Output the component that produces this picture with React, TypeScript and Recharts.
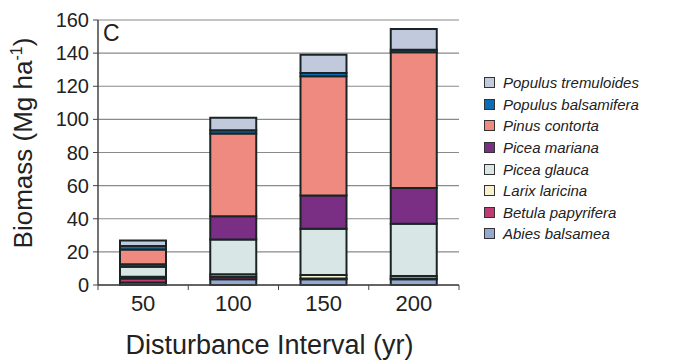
import { BarChart, Bar, XAxis, YAxis, CartesianGrid, Label } from "recharts";

const intervals = ["50", "100", "150", "200"];

// stacked bottom -> top
const abiesBalsamea = [1.5, 3.5, 3.5, 3.5];
const betulaPapyrifera = [2.5, 1.5, 0.5, 0.5];
const larixLaricina = [1, 1.5, 2, 1.5];
const piceaGlauca = [6, 21, 28, 31.5];
const piceaMariana = [1.5, 14, 20, 21.5];
const pinusContorta = [9, 50, 72, 82];
const populusBalsamifera = [2, 2, 2, 1.5];
const populusTremuloides = [3.3, 7.5, 11, 12.5];

const yTicks = [0, 20, 40, 60, 80, 100, 120, 140, 160];

const species = [
  { key: "abies", name: "Abies balsamea", color: "#94A8D2", values: abiesBalsamea },
  { key: "betula", name: "Betula papyrifera", color: "#C23A73", values: betulaPapyrifera },
  { key: "larix", name: "Larix laricina", color: "#F7F2CD", values: larixLaricina },
  { key: "glauca", name: "Picea glauca", color: "#D8E6E5", values: piceaGlauca },
  { key: "mariana", name: "Picea mariana", color: "#7B2F84", values: piceaMariana },
  { key: "contorta", name: "Pinus contorta", color: "#EE8A80", values: pinusContorta },
  { key: "balsamifera", name: "Populus balsamifera", color: "#0A6DB5", values: populusBalsamifera },
  { key: "tremuloides", name: "Populus tremuloides", color: "#C1C9DD", values: populusTremuloides },
];

const data = intervals.map((interval, i) => {
  const row: { [k: string]: string | number } = { interval };
  species.forEach((s) => {
    row[s.key] = s.values[i];
  });
  return row;
});

const FONT = "'Liberation Sans', Arial, sans-serif";
const PLOT_LEFT = 98;
const PLOT_RIGHT = 459;
const band = (PLOT_RIGHT - PLOT_LEFT) / intervals.length;

const XTick = (props: any) => {
  const { x, y, payload, index } = props;
  return (
    <g>
      <line x1={x - band / 2} x2={x - band / 2} y1={y - 8} y2={y - 3} stroke="#444" />
      {index === intervals.length - 1 && (
        <line x1={x + band / 2} x2={x + band / 2} y1={y - 8} y2={y - 3} stroke="#444" />
      )}
      <text x={x} y={y + 18} textAnchor="middle" fontSize={22} fill="#222" fontFamily={FONT}>
        {payload.value}
      </text>
    </g>
  );
};

export default function App() {
  return (
    <div style={{ position: "absolute", left: 0, top: 0, width: 674, height: 362, background: "#fff", fontFamily: FONT }}>
      <BarChart
        width={674}
        height={362}
        data={data}
        margin={{ top: 20, right: 674 - PLOT_RIGHT, bottom: 7, left: 0 }}
        barSize={46}
      >
        <CartesianGrid vertical={false} stroke="#8a8a8a" strokeWidth={1.2} />
        <XAxis
          dataKey="interval"
          height={70}
          axisLine={{ stroke: "#444", strokeWidth: 1.5 }}
          tickLine={false}
          tick={<XTick />}
          interval={0}
        >
          <Label
            value="Disturbance Interval (yr)"
            position="insideBottom"
            offset={1}
            dx={-9}
            fontSize={27}
            fill="#222"
            fontFamily={FONT}
          />
        </XAxis>
        <YAxis
          width={PLOT_LEFT}
          domain={[0, 160]}
          ticks={yTicks}
          interval={0}
          axisLine={{ stroke: "#444", strokeWidth: 1.5 }}
          tickLine={{ stroke: "#444" }}
          tickSize={5}
          tickMargin={4}
          tick={{ fontSize: 20, fill: "#222", fontFamily: FONT }}
        >
          <Label
            content={() => (
              <text
                x={32}
                y={143}
                transform="rotate(-90 32 143)"
                textAnchor="middle"
                fontSize={26}
                fill="#222"
                fontFamily={FONT}
              >
                Biomass (Mg ha
                <tspan dy={-10} fontSize={16}>-1</tspan>
                <tspan dy={10}>)</tspan>
              </text>
            )}
          />
        </YAxis>
        <YAxis
          yAxisId="right"
          orientation="right"
          width={0}
          domain={[0, 160]}
          tick={false}
          tickLine={false}
          axisLine={{ stroke: "#777", strokeWidth: 1.2 }}
        />
        {species.map((s) => (
          <Bar
            key={s.key}
            dataKey={s.key}
            name={s.name}
            stackId="a"
            fill={s.color}
            stroke="#1a2424"
            strokeWidth={2}
            isAnimationActive={false}
          />
        ))}
      </BarChart>
      <div style={{ position: "absolute", left: 103, top: 20, fontSize: 23, color: "#222" }}>C</div>
      <div style={{ position: "absolute", left: 484, top: 72 }}>
        {[...species].reverse().map((s) => (
          <div key={s.key} style={{ display: "flex", alignItems: "center", height: 21.6 }}>
            <span
              style={{
                width: 9,
                height: 9,
                background: s.color,
                border: "1px solid #333",
                marginRight: 8,
                flexShrink: 0,
              }}
            />
            <span style={{ fontStyle: "italic", fontSize: 15, color: "#222", whiteSpace: "nowrap" }}>{s.name}</span>
          </div>
        ))}
      </div>
    </div>
  );
}
